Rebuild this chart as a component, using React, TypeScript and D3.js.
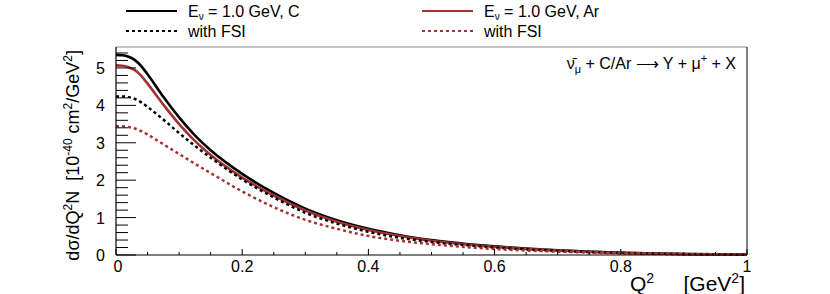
import React from 'react';
import * as d3 from 'd3';

// Q^2 sample points [GeV^2]
const q2 = [0, 0.01, 0.02, 0.03, 0.04, 0.05, 0.075, 0.1, 0.125, 0.15, 0.2, 0.25, 0.3, 0.35, 0.4, 0.45, 0.5, 0.6, 0.7, 0.8, 0.9, 1.0];

// dsigma/dQ^2 per nucleon [1e-40 cm^2/GeV^2]
const carbon = [5.35, 5.34, 5.30, 5.21, 5.05, 4.83, 4.23, 3.68, 3.20, 2.80, 2.17, 1.66, 1.24, 0.93, 0.70, 0.53, 0.40, 0.23, 0.125, 0.062, 0.026, 0.01];
const argon = [5.07, 5.06, 5.02, 4.94, 4.79, 4.58, 4.02, 3.50, 3.05, 2.67, 2.07, 1.59, 1.19, 0.89, 0.67, 0.51, 0.38, 0.22, 0.12, 0.059, 0.025, 0.009];
const carbonFSI = [4.24, 4.24, 4.22, 4.17, 4.08, 3.96, 3.62, 3.26, 2.92, 2.6, 2.02, 1.54, 1.13, 0.84, 0.62, 0.46, 0.35, 0.2, 0.11, 0.055, 0.022, 0.008];
const argonFSI = [3.44, 3.44, 3.42, 3.38, 3.31, 3.22, 2.96, 2.7, 2.44, 2.19, 1.7, 1.28, 0.94, 0.7, 0.51, 0.38, 0.29, 0.16, 0.09, 0.045, 0.018, 0.006];

const xTickLabels = ['0', '0.2', '0.4', '0.6', '0.8', '1'];
const yTickLabels = ['0', '1', '2', '3', '4', '5'];

const RED = '#a33333';
const FONT = '"Liberation Sans", Arial, sans-serif';

const series = [
  { values: carbon, color: '#000', dash: null },
  { values: argon, color: RED, dash: null },
  { values: carbonFSI, color: '#000', dash: '3,3' },
  { values: argonFSI, color: RED, dash: '3,3' },
];

const App = () => {
  const width = 830;
  const height = 294;
  const left = 116, right = 747, top = 47, bottom = 255;

  const x = d3.scaleLinear().domain([0, 1]).range([left, right]);
  const y = d3.scaleLinear().domain([0, 5.56]).range([bottom, top]);

  const line = (vals: number[]) =>
    d3.line<number>()
      .x((_, i) => x(q2[i]))
      .y(d => y(d))
      .curve(d3.curveMonotoneX)(vals);

  const xMinor = d3.range(0, 1.0001, 0.05);
  const yMinor = d3.range(0, 5.5, 0.2);

  return (
    <svg width={width} height={height} style={{ position: 'absolute', left: 0, top: 0, fontFamily: FONT }}>
      <rect width={width} height={height} fill="#fff" />

      {/* frame */}
      <line x1={left} x2={right} y1={top} y2={top} stroke="#888" strokeWidth={1} />
      <line x1={right} x2={right} y1={top} y2={bottom} stroke="#000" strokeWidth={1} />

      {/* curves */}
      {series.map((s, i) => (
        <path key={i} d={line(s.values) || ''} fill="none" stroke={s.color}
          strokeWidth={s.dash ? 2.5 : 2.6} strokeDasharray={s.dash || undefined} />
      ))}

      {/* y axis */}
      <line x1={left} x2={left} y1={top} y2={bottom} stroke="#000" strokeWidth={1.2} />
      {yMinor.map((v, i) => {
        const major = i % 5 === 0;
        return <line key={i} x1={left} x2={left + (major ? 20 : 12)} y1={y(v)} y2={y(v)} stroke="#000" strokeWidth={1} />;
      })}
      {yTickLabels.map(t => (
        <text key={t} x={left - 11} y={y(+t) + 6} fontSize={16} textAnchor="end">{t}</text>
      ))}

      {/* x axis */}
      <line x1={left} x2={right} y1={bottom} y2={bottom} stroke="#000" strokeWidth={1.2} />
      {xMinor.map((v, i) => {
        const major = i % 4 === 0;
        return <line key={i} x1={x(v)} x2={x(v)} y1={bottom} y2={bottom - (major ? 6 : 3)} stroke="#000" strokeWidth={1} />;
      })}
      {xTickLabels.map(t => (
        <text key={t} x={x(+t) + (t === '0' ? 2 : 0)} y={bottom + 17} fontSize={16} textAnchor="middle">{t}</text>
      ))}

      {/* axis titles */}
      <text x={630} y={291} fontSize={21}>
        Q<tspan dy={-8} fontSize={14}>2</tspan>
      </text>
      <text x={745} y={291} fontSize={21} textAnchor="end">
        [GeV<tspan dy={-8} fontSize={14}>2</tspan><tspan dy={8}>]</tspan>
      </text>
      <text transform="translate(79,50) rotate(-90)" fontSize={18} textAnchor="end" xmlSpace="preserve">
        dσ/dQ<tspan dy={-7} fontSize={12}>2</tspan><tspan dy={7}>{'N  [10'}</tspan><tspan dy={-7} fontSize={12}>-40</tspan><tspan dy={7}> cm</tspan><tspan dy={-7} fontSize={12}>2</tspan><tspan dy={7}>/GeV</tspan><tspan dy={-7} fontSize={12}>2</tspan><tspan dy={7}>]</tspan>
      </text>

      {/* annotation */}
      <text x={736} y={69} fontSize={16} textAnchor="end" xmlSpace="preserve">
        ν̄<tspan dy={4} fontSize={11}>μ</tspan><tspan dy={-4}>{' + C/Ar ⟶ Y + μ'}</tspan><tspan dy={-7} fontSize={11}>+</tspan><tspan dy={7}>{' + X'}</tspan>
      </text>

      {/* legend */}
      <g fontSize={16}>
        <line x1={126} x2={177} y1={11} y2={11} stroke="#000" strokeWidth={2} />
        <text x={188} y={17}>E<tspan dy={3} fontSize={10}>ν</tspan><tspan dy={-3}> = 1.0 GeV, C</tspan></text>
        <line x1={126} x2={177} y1={31} y2={31} stroke="#000" strokeWidth={2} strokeDasharray="3,3" />
        <text x={188} y={37}>with FSI</text>

        <line x1={422} x2={473} y1={11} y2={11} stroke={RED} strokeWidth={2} />
        <text x={484} y={17}>E<tspan dy={3} fontSize={10}>ν</tspan><tspan dy={-3}> = 1.0 GeV, Ar</tspan></text>
        <line x1={422} x2={473} y1={31} y2={31} stroke={RED} strokeWidth={2} strokeDasharray="3,3" />
        <text x={484} y={37}>with FSI</text>
      </g>
    </svg>
  );
};

export default App;
